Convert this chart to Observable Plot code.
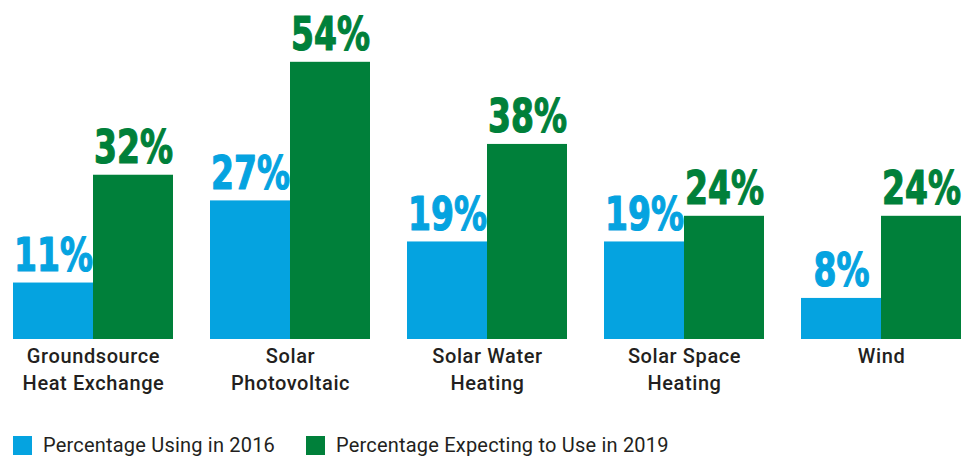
<!DOCTYPE html>
<html><head><meta charset="utf-8">
<script src="https://cdn.jsdelivr.net/npm/d3@7"></script>
<script src="https://cdn.jsdelivr.net/npm/@observablehq/plot@0.6"></script>
<style>
body{margin:0;background:#fff;overflow:hidden;}
#legend{position:relative;height:20px;margin-top:36px;font-family:Roboto,"Noto Sans",sans-serif;font-size:20px;line-height:19px;letter-spacing:0.2px;color:#231f20;}
.item{display:flex;align-items:center;position:absolute;top:0;height:19px;}
.sw{width:19px;height:19px;margin-right:11px;flex:none;}
</style></head><body><div id="chart"></div><div id="legend"></div><script>
const categories = ["Groundsource\nHeat Exchange","Solar\nPhotovoltaic","Solar Water\nHeating","Solar Space\nHeating","Wind"];
const series = ["Percentage Using in 2016","Percentage Expecting to Use in 2019"];
const using2016 = [11,27,19,19,8];
const expecting2019 = [32,54,38,24,24];
const colors = ["#05a3e0","#00803a"];
const legendX = [13,306];

const data = categories.flatMap((c,i)=>[
  {category:c, series:series[0], value:using2016[i]},
  {category:c, series:series[1], value:expecting2019[i]}
]);

const chart = Plot.plot({
  width:966, height:400, marginLeft:12, marginRight:4, marginTop:31, marginBottom:61,
  fx:{domain:categories, paddingInner:0.19, paddingOuter:0, label:null},
  x:{domain:series, padding:0, axis:null},
  y:{domain:[0,60], axis:null},
  color:{domain:series, range:colors},
  marks:[
    Plot.barY(data,{fx:"category", x:"series", y:"value", fill:"series"}),
    Plot.text(data,{fx:"category", x:"series", y:"value", text:d=>d.value+"%", fill:"series", stroke:"series", strokeWidth:1.2,
      dy:-12, lineAnchor:"bottom", fontSize:47, fontWeight:"bold", className:"vlabel",
      fontFamily:"'Liberation Sans Narrow','DejaVu Sans Condensed',sans-serif"}),
    Plot.axisFx({anchor:"bottom", tickSize:0, tickPadding:5, fontSize:20, lineHeight:1.33, label:null,
      fill:"#231f20", fontWeight:500, fontFamily:"Roboto,'Noto Sans',sans-serif"})
  ]
});
chart.querySelectorAll("g[aria-label='fx-axis tick label']").forEach(e=>e.style.letterSpacing="0.6px");
chart.querySelectorAll(".vlabel text, g[aria-label='text'] text").forEach(t=>{
  const tr=t.getAttribute("transform")||"";
  if(t.hasAttribute("x")) t.setAttribute("x", (+t.getAttribute("x"))/0.78);
  t.setAttribute("transform", tr+" scale(0.78,1)");
});
document.getElementById("chart").appendChild(chart);

const lg = document.getElementById("legend");
series.forEach((s,i)=>{
  const it=document.createElement("div"); it.className="item"; it.style.left=legendX[i]+"px";
  const sw=document.createElement("div"); sw.className="sw"; sw.style.background=colors[i];
  const t=document.createElement("span"); t.textContent=s;
  it.appendChild(sw); it.appendChild(t); lg.appendChild(it);
});
</script></body></html>
